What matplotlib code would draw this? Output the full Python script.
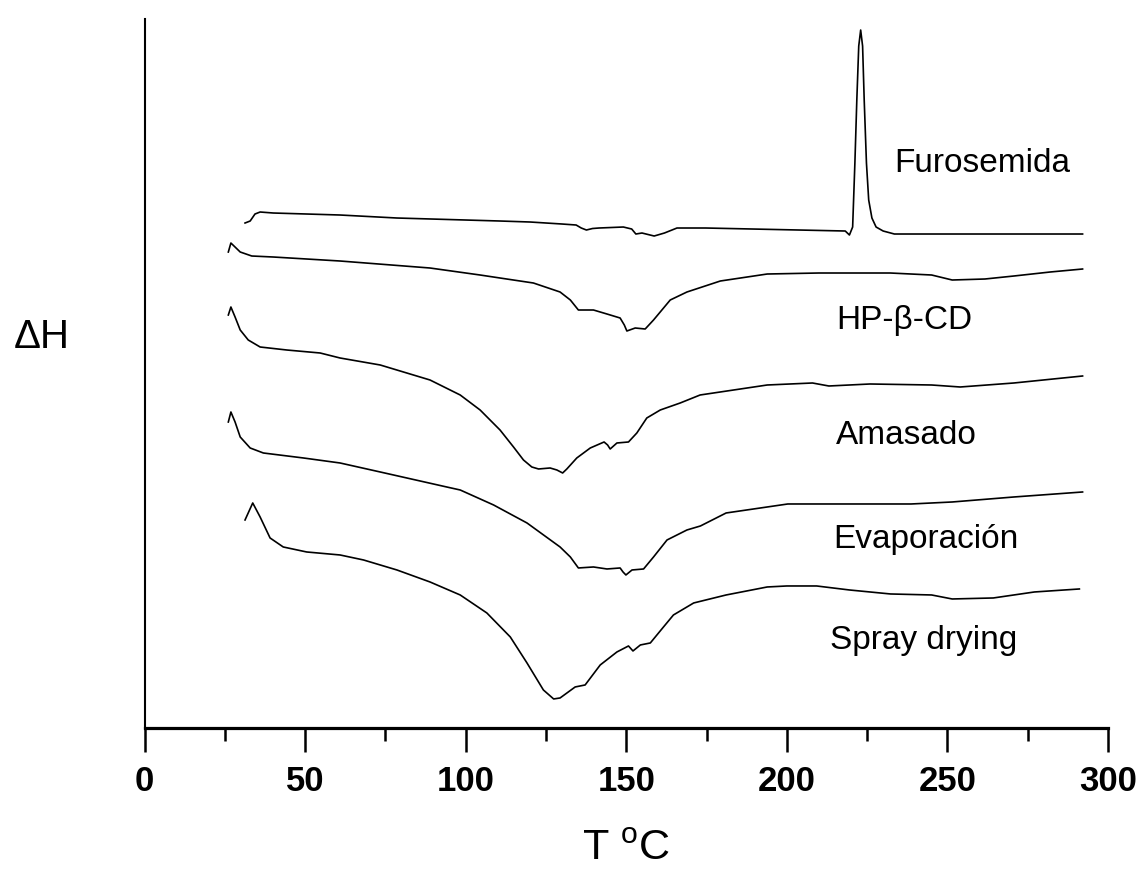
import matplotlib
matplotlib.use("Agg")
import matplotlib.pyplot as plt

# Curvas DSC (temperatura em oC, sinal em unidades arbitrarias, com deslocamento)
furosemida_t = [31.3, 32.9, 34.4, 36.0, 40.1, 60.9, 78.6, 110.7, 120.1, 130.0, 134.4, 136.0,
                137.6, 139.5, 141.5, 149.1, 151.7, 153.0, 154.9, 158.7, 161.9, 165.8, 174.7,
                218.2, 219.5, 220.5, 221.2, 221.8, 222.4, 223.0, 223.6, 224.1, 224.8, 225.5,
                226.5, 227.8, 230.0, 233.5, 260.0, 292.1]
furosemida_h = [505, 507, 514, 516, 515, 513, 510, 507, 506, 504, 503, 500,
                498, 499.5, 500, 501, 499, 494, 495, 492, 495, 500, 500,
                497, 493, 501, 565, 628, 682, 698, 682, 628, 565, 528,
                510, 501, 497, 494, 494, 494]

hpbcd_t = [26.1, 26.9, 29.8, 33.4, 40.1, 60.9, 88.9, 104.5, 110.7, 121.1, 129.4, 132.6, 135.1,
           139.8, 144.0, 148.1, 149.4, 150.2, 152.8, 155.9, 158.5, 163.7, 168.9, 179.3, 193.9,
           210.0, 232.2, 245.1, 251.5, 261.7, 270.7, 282.0, 292.1]
hpbcd_h = [476, 485, 476, 472, 471, 467, 460, 453, 450, 445, 436, 428, 418,
           418, 414, 410, 403, 397, 400, 399, 408, 428, 436, 447, 454,
           455, 455, 453, 448, 449, 452, 456, 459]

amasado_t = [26.1, 26.9, 28.2, 29.8, 32.3, 36.0, 44.3, 54.7, 60.9, 73.4, 88.9, 98.3, 104.5,
             110.7, 114.9, 118.0, 120.6, 122.7, 126.3, 128.4, 130.2, 131.5, 134.6, 138.8, 143.1,
             144.2, 145.0, 147.1, 150.7, 153.3, 156.4, 160.6, 166.8, 173.0, 193.9, 208.0, 213.1,
             225.9, 245.1, 254.0, 270.7, 292.1]
amasado_h = [413, 421, 411, 398, 388, 381, 378, 375, 370, 363, 348, 333, 318,
             298, 281, 268, 261, 259, 260, 258, 255, 259, 270, 280, 286,
             283, 279, 285, 286, 295, 310, 318, 325, 333, 343, 345, 342,
             344, 343, 341, 345, 352]

evaporacion_t = [26.1, 26.9, 28.2, 29.8, 32.9, 37.0, 49.5, 60.9, 73.4, 94.1, 98.3, 108.7,
                 119.1, 129.4, 132.6, 135.1, 139.8, 144.0, 148.1, 149.0, 149.9, 151.8, 155.4,
                 158.5, 162.7, 168.9, 173.1, 181.1, 200.3, 238.7, 251.5, 270.7, 292.1]
evaporacion_h = [306, 316, 306, 291, 280, 275, 270, 265, 256, 241, 238, 223,
                 205, 181, 171, 160, 161, 159, 160, 156, 153, 158, 159,
                 171, 188, 198, 202, 215, 224, 224, 226, 231, 236]

spray_t = [31.3, 33.7, 36.0, 39.1, 43.2, 50.5, 60.9, 68.2, 78.6, 88.9, 98.3, 106.6, 113.9,
           119.1, 124.2, 127.4, 129.4, 134.1, 137.2, 141.9, 147.1, 150.7, 152.1, 154.4, 157.5,
           161.6, 164.7, 171.0, 181.1, 193.9, 200.0, 209.3, 219.5, 232.3, 245.1, 251.5, 264.3,
           277.1, 291.1]
spray_h = [208, 225, 211, 190, 181, 176, 173, 168, 158, 146, 133, 115, 91,
           65, 38, 29, 30, 41, 43, 63, 76, 82, 77, 83, 85,
           101, 113, 125, 133, 141, 142, 142, 138, 134, 133, 129, 130,
           136, 139]

nomes = ["Furosemida", "HP-\u03b2-CD", "Amasado", "Evaporaci\u00f3n", "Spray drying"]
nomes_x = [233.6, 215.3, 215.3, 214.6, 213.6]
nomes_y = [565, 408, 292, 188, 87]

plt.rcParams['font.family'] = ['Liberation Sans', 'DejaVu Sans']
plt.rcParams['mathtext.fontset'] = 'custom'
plt.rcParams['mathtext.rm'] = 'Liberation Sans'

fig = plt.figure(figsize=(11.46, 8.69), dpi=100)
ax = fig.add_axes([0.1261, 0.1623, 0.8407, 0.8158])

curvas = [(furosemida_t, furosemida_h), (hpbcd_t, hpbcd_h), (amasado_t, amasado_h),
          (evaporacion_t, evaporacion_h), (spray_t, spray_h)]
for t, h in curvas:
    ax.plot(t, h, color="black", linewidth=1.2, solid_joinstyle="round")

for nome, x, y in zip(nomes, nomes_x, nomes_y):
    ax.text(x, y, nome, fontsize=24, ha="left", va="center")

ax.set_xlim(0, 300)
ax.set_ylim(0, 709)
ax.set_xticks(range(0, 301, 50))
ax.set_xticks(range(25, 300, 50), minor=True)
ax.set_yticks([])
ax.tick_params(axis="x", which="major", direction="out", length=17, width=1.8,
               labelsize=25, pad=10)
ax.tick_params(axis="x", which="minor", direction="out", length=9, width=1.8)
for lbl in ax.get_xticklabels():
    lbl.set_fontweight("bold")

ax.spines["top"].set_visible(False)
ax.spines["right"].set_visible(False)
ax.spines["left"].set_linewidth(1.5)
ax.spines["bottom"].set_linewidth(2.3)

ax.set_xlabel("T $^{\\mathrm{o}}$C", fontsize=31, labelpad=22)
ax.text(-32, 391, "\u0394H", fontsize=29, ha="center", va="center")

fig.savefig("out.png", dpi=100)
